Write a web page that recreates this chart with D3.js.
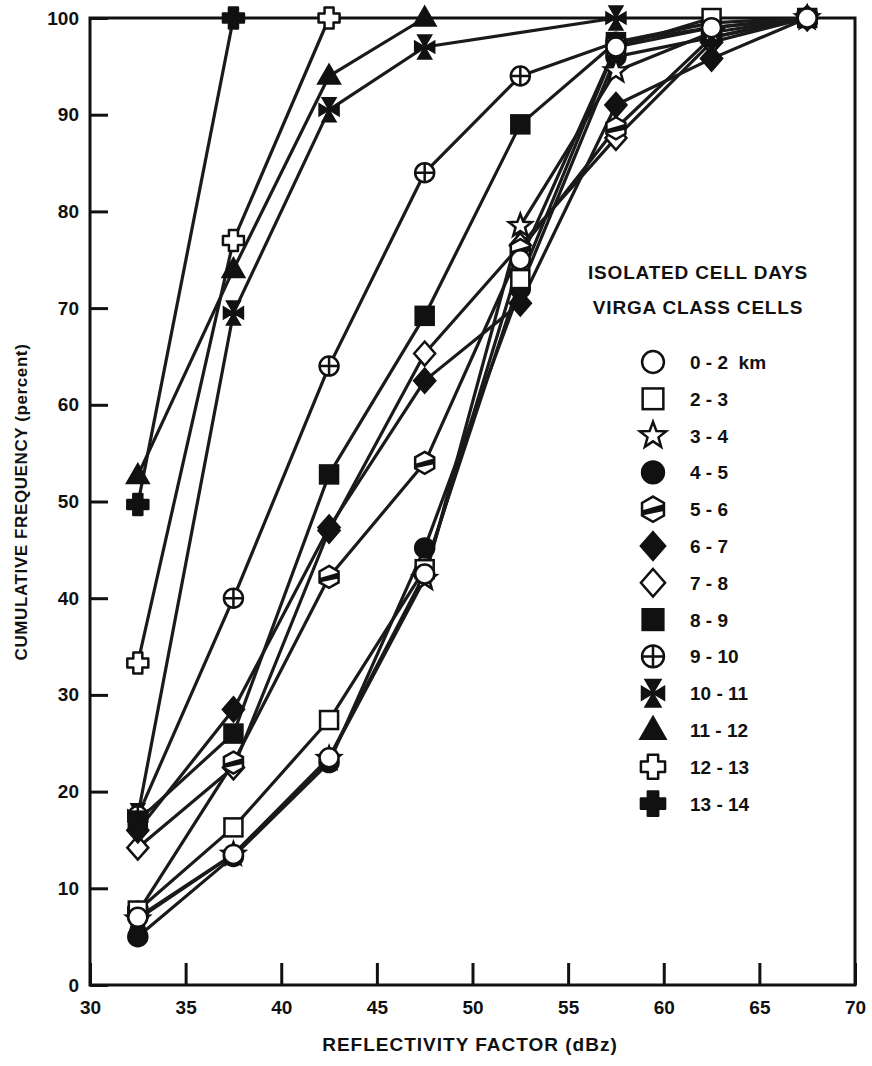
<!DOCTYPE html>
<html>
<head>
<meta charset="utf-8">
<script src="https://cdn.jsdelivr.net/npm/d3@7"></script>
<style>
  body { margin: 0; background: white; }
  text { font-family: "Liberation Sans", Arial, sans-serif; fill: #111; }
</style>
</head>
<body>
<div id="grafico"></div>
<script>
// Reflectividad (dBz), centro de cada clase
var reflectividad = [32.5, 37.5, 42.5, 47.5, 52.5, 57.5, 62.5, 67.5];

// Frecuencia acumulada (%) por altura de la celda
var s0_2   = [7,    13.5, 23.5, 42.5, 75,   97,   99,   100];
var s2_3   = [7.7,  16.3, 27.4, 43,   73,   97,   100,  null];
var s3_4   = [6.8,  13.5, 23.4, 42,   78.5, 94.5, 98.5, 100];
var s4_5   = [5,    13.3, 23,   45.2, 72,   96,   98,   100];
var s5_6   = [7.5,  23,   42.2, 54,   76,   88.6, 98,   100];
var s6_7   = [16,   28.5, 47.3, 62.5, 70.5, 91,   95.8, 100];
var s7_8   = [14.2, 22.5, 47,   65.3, 76.5, 87.6, 97.5, 100];
var s8_9   = [17,   26,   52.8, 69.2, 89,   97.5, 99,   100];
var s9_10  = [17.5, 40,   64,   84,   94,   97.5, 99.5, 100];
var s10_11 = [17.5, 69.5, 90.5, 97,   null, 100,  null, null];
var s11_12 = [52.7, 74,   94,   100,  null, null, null, null];
var s12_13 = [33.3, 77,   100,  null, null, null, null, null];
var s13_14 = [49.7, 100,  null, null, null, null, null, null];

var etiquetas = ["0 - 2  km", "2 - 3", "3 - 4", "4 - 5", "5 - 6", "6 - 7", "7 - 8",
                 "8 - 9", "9 - 10", "10 - 11", "11 - 12", "12 - 13", "13 - 14"];
var simbolos = ["circulo", "cuadrado", "estrella", "circuloLleno", "hexagono", "romboLleno", "rombo",
                "cuadradoLleno", "circuloCruz", "maltesa", "triangulo", "cruz", "cruzLlena"];
var series = [s0_2, s2_3, s3_4, s4_5, s5_6, s6_7, s7_8, s8_9, s9_10, s10_11, s11_12, s12_13, s13_14];

var xTicks = [30, 35, 40, 45, 50, 55, 60, 65, 70];
var yTicks = [0, 10, 20, 30, 40, 50, 60, 70, 80, 90, 100];

var negro = "#111";

var svg = d3.select("#grafico").append("svg")
  .attr("width", 872)
  .attr("height", 1066);

var xScale = d3.scaleLinear().domain([30, 70]).range([90, 855]);
var yScale = d3.scaleLinear().domain([0, 100]).range([985, 18]);

// Ejes
var xAxis = d3.axisBottom(xScale).tickValues(xTicks).tickSizeInner(-22).tickSizeOuter(0).tickPadding(16);
var yAxis = d3.axisLeft(yScale).tickValues(yTicks).tickSizeInner(-18).tickSizeOuter(0).tickPadding(11);

var xAxisG = svg.append("g").attr("transform", "translate(0,985)").call(xAxis);
var yAxisG = svg.append("g").attr("transform", "translate(90,0)").call(yAxis);
[xAxisG, yAxisG].forEach(function(g) {
  g.select(".domain").remove();
  g.selectAll("line").attr("stroke", negro).attr("stroke-width", 3);
  g.selectAll("text").style("font-size", "19px").style("font-weight", "bold").attr("fill", negro);
});

// Marco
svg.append("rect")
  .attr("x", xScale(30)).attr("y", yScale(100))
  .attr("width", xScale(70) - xScale(30)).attr("height", yScale(0) - yScale(100))
  .attr("fill", "none").attr("stroke", negro).attr("stroke-width", 3);

// Titulos de ejes
svg.append("text")
  .attr("x", 470).attr("y", 1051)
  .attr("text-anchor", "middle")
  .style("font-size", "19px").style("font-weight", "600").style("letter-spacing", "1px")
  .text("REFLECTIVITY FACTOR (dBz)");

svg.append("text")
  .attr("transform", "translate(27,502) rotate(-90)")
  .attr("text-anchor", "middle")
  .style("font-size", "17px").style("font-weight", "600").style("letter-spacing", "0.6px")
  .text("CUMULATIVE FREQUENCY (percent)");

// Dibuja un simbolo en g
function simbolo(g, tipo, k) {
  var s = k || 1;
  var poly = function(pts) { return "M" + pts.map(function(p) { return [p[0] * s, p[1] * s].join(","); }).join("L") + "Z"; };
  if (tipo == "circulo" || tipo == "circuloLleno" || tipo == "circuloCruz") {
    g.append("circle").attr("r", 9.5 * s)
      .attr("fill", tipo == "circuloLleno" ? negro : "white")
      .attr("stroke", negro).attr("stroke-width", 2.5);
    if (tipo == "circuloCruz") {
      g.append("path").attr("d", "M" + (-9.5 * s) + ",0H" + (9.5 * s) + "M0," + (-9.5 * s) + "V" + (9.5 * s))
        .attr("stroke", negro).attr("stroke-width", 2.5);
    }
  } else if (tipo == "cuadrado" || tipo == "cuadradoLleno") {
    g.append("rect").attr("x", -9 * s).attr("y", -9 * s).attr("width", 18 * s).attr("height", 18 * s)
      .attr("fill", tipo == "cuadradoLleno" ? negro : "white")
      .attr("stroke", negro).attr("stroke-width", 2.5);
  } else if (tipo == "estrella") {
    var pts = [];
    for (var i = 0; i < 10; i++) {
      var r = i % 2 == 0 ? 12 : 5;
      var a = -Math.PI / 2 + i * Math.PI / 5;
      pts.push([r * Math.cos(a), r * Math.sin(a)]);
    }
    g.append("path").attr("d", poly(pts)).attr("fill", "white").attr("stroke", negro).attr("stroke-width", 2.5);
  } else if (tipo == "hexagono") {
    var hex = [];
    for (var j = 0; j < 6; j++) {
      var b = -Math.PI / 2 + j * Math.PI / 3;
      hex.push([11 * Math.cos(b), 11 * Math.sin(b)]);
    }
    g.append("path").attr("d", poly(hex)).attr("fill", "white").attr("stroke", negro).attr("stroke-width", 2.5);
    g.append("path").attr("d", poly([[-9.5, 1], [9.5, -4.5], [9.5, 1.5], [-9.5, 5.5]])).attr("fill", negro);
  } else if (tipo == "rombo" || tipo == "romboLleno") {
    g.append("path").attr("d", poly([[0, -12], [10.5, 0], [0, 12], [-10.5, 0]]))
      .attr("fill", tipo == "romboLleno" ? negro : "white")
      .attr("stroke", negro).attr("stroke-width", 2.5);
  } else if (tipo == "triangulo") {
    g.append("path").attr("d", poly([[0, -12], [11.5, 8], [-11.5, 8]]))
      .attr("fill", negro).attr("stroke", negro).attr("stroke-width", 1.5);
  } else if (tipo == "cruz" || tipo == "cruzLlena") {
    g.append("path").attr("d", poly([[-4.5, -10.5], [4.5, -10.5], [4.5, -4.5], [10.5, -4.5], [10.5, 4.5], [4.5, 4.5],
                                     [4.5, 10.5], [-4.5, 10.5], [-4.5, 4.5], [-10.5, 4.5], [-10.5, -4.5], [-4.5, -4.5]]))
      .attr("fill", tipo == "cruzLlena" ? negro : "white")
      .attr("stroke", negro).attr("stroke-width", 2.5).attr("stroke-linejoin", "round");
  } else if (tipo == "maltesa") {
    var d = poly([[-7, -12], [7, -12], [0, 0]]) + poly([[-7, 12], [7, 12], [0, 0]]) +
            poly([[-10, -6], [-10, 6], [0, 0]]) + poly([[10, -6], [10, 6], [0, 0]]);
    g.append("path").attr("d", d).attr("fill", negro).attr("stroke", negro).attr("stroke-width", 1.5);
  }
}

// Lineas
var linea = d3.line()
  .x(function(d) { return xScale(d[0]); })
  .y(function(d) { return yScale(d[1]); });

var puntos = series.map(function(v) {
  return reflectividad.map(function(x, i) { return [x, v[i]]; })
    .filter(function(p) { return p[1] != null; });
});

svg.append("g").selectAll("path")
  .data(puntos)
  .enter().append("path")
  .attr("d", linea)
  .attr("fill", "none")
  .attr("stroke", "#1a1a1a")
  .attr("stroke-width", 3.2)
  .attr("stroke-linejoin", "round");

// Marcadores (de la ultima serie a la primera)
for (var n = series.length - 1; n >= 0; n--) {
  puntos[n].forEach(function(p) {
    var g = svg.append("g").attr("transform", "translate(" + xScale(p[0]) + "," + yScale(p[1]) + ")");
    simbolo(g, simbolos[n]);
  });
}

// Leyenda
var leyenda = svg.append("g");
leyenda.append("text").attr("x", 698).attr("y", 279).attr("text-anchor", "middle")
  .style("font-size", "19px").style("font-weight", "bold").style("letter-spacing", "0.8px").text("ISOLATED CELL DAYS");
leyenda.append("text").attr("x", 698).attr("y", 314).attr("text-anchor", "middle")
  .style("font-size", "19px").style("font-weight", "bold").style("letter-spacing", "0.8px").text("VIRGA CLASS CELLS");

etiquetas.forEach(function(et, i) {
  var y = 362 + i * 36.8;
  var g = leyenda.append("g").attr("transform", "translate(653," + y + ")");
  simbolo(g, simbolos[i], 1.15);
  leyenda.append("text").attr("x", 690).attr("y", y + 7)
    .style("font-size", "19px").style("font-weight", "bold")
    .attr("xml:space", "preserve")
    .text(et);
});
</script>
</body>
</html>
